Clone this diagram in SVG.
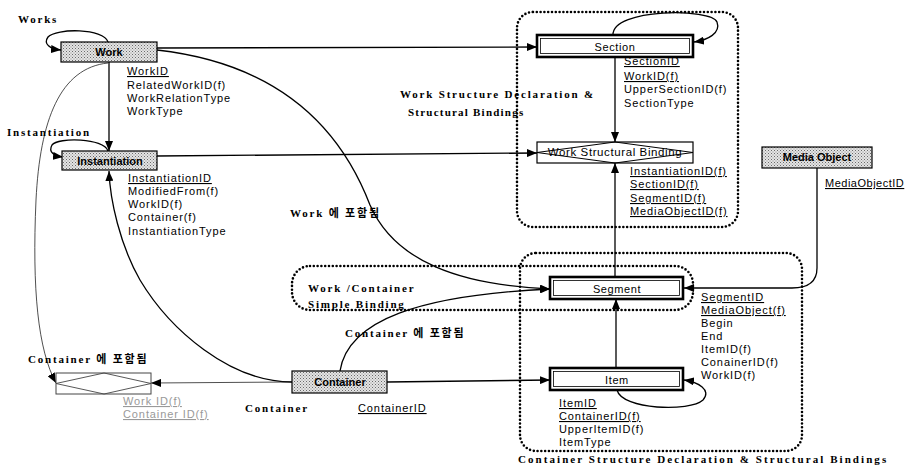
<svg xmlns="http://www.w3.org/2000/svg" width="919" height="471" viewBox="0 0 919 471">
<defs>
<pattern id="ht" width="3" height="3" patternUnits="userSpaceOnUse">
<rect width="3" height="3" fill="#e4e4e4"/>
<rect x="0" y="0" width="1" height="1" fill="#6a6a6a"/>
<rect x="1.5" y="1.5" width="1" height="1" fill="#8a8a8a"/>
</pattern>
<marker id="arr" viewBox="0 0 10 8" refX="10" refY="4" markerWidth="10" markerHeight="8" orient="auto" markerUnits="userSpaceOnUse">
<path d="M0,0 L10,4 L0,8 z" fill="#000"/>
</marker>
<style>
.gray{fill:url(#ht);stroke:#000;stroke-width:1.2}
.nl{font-family:"Liberation Sans",Arial,sans-serif;font-weight:bold;font-size:11px;fill:#000;text-anchor:middle}
.nn{font-family:"Liberation Sans",Arial,sans-serif;font-size:11px;letter-spacing:0.6px;fill:#000;text-anchor:middle}
.at{font-family:"Liberation Sans",Arial,sans-serif;font-size:11px;letter-spacing:0.9px;fill:#000}
.u{text-decoration:underline}
.sl{font-family:"Liberation Serif","Noto Sans CJK KR",serif;font-weight:bold;font-size:11px;letter-spacing:1.8px;fill:#000}
.outer{fill:#fff;stroke:#000;stroke-width:2.6}
.inner{fill:none;stroke:#000;stroke-width:0.8}
.ln{fill:none;stroke:#000;stroke-width:1.3}
.thin{fill:none;stroke:#222;stroke-width:0.8}
.dot{fill:none;stroke:#000;stroke-width:2.6;stroke-dasharray:0 3.8;stroke-linecap:round}
</style>
</defs>
<rect width="919" height="471" fill="#fff"/>

<g id="regions">
<rect class="dot" x="517" y="12" width="221" height="215" rx="16"/>
<rect class="dot" x="520" y="253" width="282" height="198" rx="16"/>
<rect class="dot" x="292" y="266" width="401" height="44" rx="18"/>
</g>

<g id="connectors">
<path class="ln" d="M108,42 C104,28 56,28 48,37 C43,44 50,49 61,50" marker-end="url(#arr)"/>
<path class="ln" d="M157,48 L537,47" marker-end="url(#arr)"/>
<path class="ln" d="M109,62 L109,151" marker-end="url(#arr)"/>
<path class="ln" d="M157,50 C290,65 345,140 370,205 C395,262 460,285 550,289" marker-end="url(#arr)"/>
<path class="thin" d="M108,63 C60,68 40,120 36,200 C32,290 38,350 56,383" marker-end="url(#arr)"/>
<path class="ln" d="M108,151 C104,138 58,137 52,145 C48,152 54,156 63,157" marker-end="url(#arr)"/>
<path class="ln" d="M157,156 L537,153" marker-end="url(#arr)"/>
<path class="ln" d="M613,35 C612,8 712,8 717,22 C721,33 708,40 694,42" marker-end="url(#arr)"/>
<path class="ln" d="M615,57 L615,142" marker-end="url(#arr)"/>
<path class="ln" d="M615,277 L615,163" marker-end="url(#arr)"/>
<path class="ln" d="M616,368 L616,299" marker-end="url(#arr)"/>
<path class="ln" d="M617,390 C622,410 690,412 703,400 C712,390 698,382 684,380" marker-end="url(#arr)"/>
<path class="ln" d="M387,382 L550,380" marker-end="url(#arr)"/>
<path class="ln" d="M340,371 C348,320 420,295 550,289" marker-end="url(#arr)"/>
<path class="ln" d="M292,382 C230,382 170,330 140,280 C120,245 110,200 109,171" marker-end="url(#arr)"/>
<path class="thin" d="M292,382 L151,383" marker-end="url(#arr)"/>
<path class="ln" d="M817,168 L817,268 C817,282 807,288 792,288 L684,288" marker-end="url(#arr)"/>
</g>

<g id="work">
<rect class="gray" x="61" y="42" width="96" height="20"/>
<text class="nl" x="109" y="56">Work</text>
<text class="at u" x="127" y="75">WorkID</text>
<text class="at" x="127" y="89">RelatedWorkID(f)</text>
<text class="at" x="127" y="102">WorkRelationType</text>
<text class="at" x="127" y="115">WorkType</text>
</g>

<g id="instantiation">
<rect class="gray" x="62" y="151" width="95" height="19"/>
<text class="nl" x="110" y="165">Instantiation</text>
<text class="at u" x="128" y="182">InstantiationID</text>
<text class="at" x="128" y="195">ModifiedFrom(f)</text>
<text class="at" x="128" y="208">WorkID(f)</text>
<text class="at" x="128" y="221">Container(f)</text>
<text class="at" x="128" y="235">InstantiationType</text>
</g>

<g id="section">
<rect class="outer" x="537" y="35" width="156" height="22"/>
<rect class="inner" x="540.5" y="38.5" width="149" height="15"/>
<text class="nn" x="615" y="51">Section</text>
<text class="at u" x="624" y="65">SectionID</text>
<text class="at u" x="624" y="80">WorkID(f)</text>
<text class="at" x="624" y="93">UpperSectionID(f)</text>
<text class="at" x="624" y="107">SectionType</text>
</g>

<g id="work-structural-binding">
<rect x="537" y="142" width="156" height="21" fill="#fff" stroke="#000" stroke-width="1.2"/>
<path d="M537,152.5 L615,142 L693,152.5 L615,163 Z" fill="none" stroke="#000" stroke-width="1"/>
<text class="nn" x="615" y="156" style="font-size:11.5px">Work Structural Binding</text>
<text class="at u" x="630" y="175">InstantiationID(f)</text>
<text class="at u" x="630" y="188">SectionID(f)</text>
<text class="at u" x="630" y="202">SegmentID(f)</text>
<text class="at u" x="630" y="215">MediaObjectID(f)</text>
</g>

<g id="media-object">
<rect class="gray" x="762" y="147" width="110" height="21"/>
<text class="nl" x="817" y="161">Media Object</text>
<text class="at u" x="825" y="187" style="letter-spacing:0.5px">MediaObjectID</text>
</g>

<g id="segment">
<rect class="outer" x="550" y="277" width="133" height="22"/>
<rect class="inner" x="553.5" y="280.5" width="126" height="15"/>
<text class="nn" x="617" y="293">Segment</text>
<text class="at u" x="701" y="301">SegmentID</text>
<text class="at u" x="701" y="314">MediaObject(f)</text>
<text class="at" x="701" y="327">Begin</text>
<text class="at" x="701" y="340">End</text>
<text class="at" x="701" y="353">ItemID(f)</text>
<text class="at" x="701" y="366">ConainerID(f)</text>
<text class="at" x="701" y="379">WorkID(f)</text>
</g>

<g id="item">
<rect class="outer" x="550" y="368" width="133" height="22"/>
<rect class="inner" x="553.5" y="371.5" width="126" height="15"/>
<text class="nn" x="617" y="384">Item</text>
<text class="at u" x="559" y="407">ItemID</text>
<text class="at u" x="559" y="420">ContainerID(f)</text>
<text class="at" x="559" y="433">UpperItemID(f)</text>
<text class="at" x="559" y="446">ItemType</text>
</g>

<g id="container">
<rect class="gray" x="292" y="371" width="95" height="22"/>
<text class="nl" x="340" y="386">Container</text>
<text class="at u" x="358" y="412">ContainerID</text>
</g>

<g id="container-binding">
<rect x="56" y="373" width="95" height="21" fill="#fff" stroke="#444" stroke-width="1"/>
<path d="M56,383.5 L104,373 L151,383.5 L104,394 Z" fill="none" stroke="#444" stroke-width="0.9"/>
<text class="at u" x="123" y="405" style="fill:#999">Work ID(f)</text>
<text class="at u" x="123" y="418" style="fill:#999">Container ID(f)</text>
</g>

<g id="labels">
<text class="sl" x="18" y="23">Works</text>
<text class="sl" x="7" y="136">Instantiation</text>
<text class="sl" x="400" y="98" textLength="195">Work Structure Declaration &amp;</text>
<text class="sl" x="408" y="116" textLength="117">Structural Bindings</text>
<text class="sl" x="290" y="217">Work 에 포함됨</text>
<text class="sl" x="308" y="292">Work /Container</text>
<text class="sl" x="308" y="308">Simple Binding</text>
<text class="sl" x="345" y="337">Container 에 포함됨</text>
<text class="sl" x="28" y="363">Container 에 포함됨</text>
<text class="sl" x="245" y="412">Container</text>
<text class="sl" x="518" y="463" textLength="370">Container Structure Declaration &amp; Structural Bindings</text>
</g>
</svg>
